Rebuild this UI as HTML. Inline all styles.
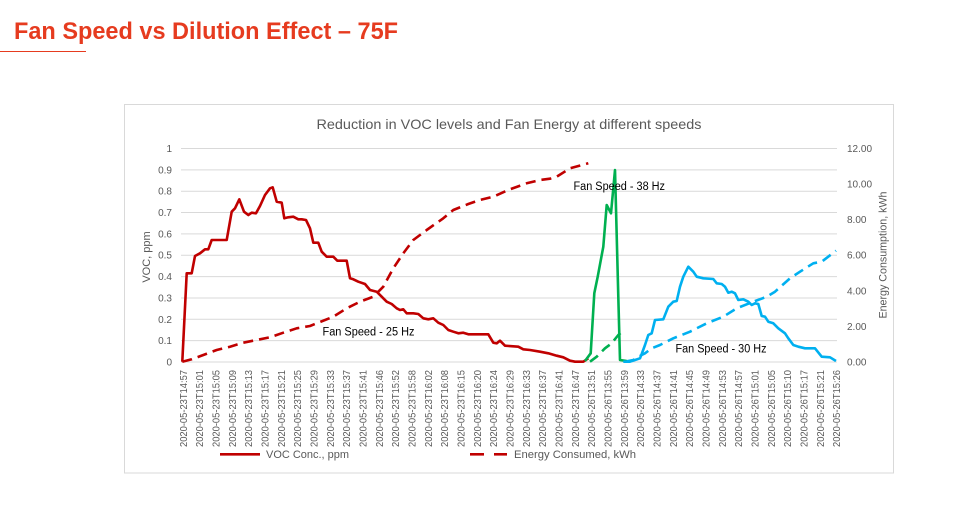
<!DOCTYPE html>
<html>
<head>
<meta charset="utf-8">
<style>
html,body{margin:0;padding:0;background:#fff;}
svg{display:block;}
text{font-family:"Liberation Sans",sans-serif;}
</style>
</head>
<body>
<svg width="953" height="517" viewBox="0 0 953 517" xmlns="http://www.w3.org/2000/svg">
<rect width="953" height="517" fill="#fff"/>
<!-- page title -->
<text x="14" y="39" font-size="24" font-weight="bold" fill="#E63B1F" textLength="384" lengthAdjust="spacingAndGlyphs">Fan Speed vs Dilution Effect – 75F</text>
<line x1="0" y1="51.5" x2="86" y2="51.5" stroke="#E63B1F" stroke-width="1"/>

<!-- chart box -->
<rect x="124.5" y="104.5" width="769" height="368.5" fill="#fff" stroke="#D9D9D9" stroke-width="1"/>
<text x="509" y="129" font-size="14" fill="#595959" text-anchor="middle" textLength="385" lengthAdjust="spacingAndGlyphs">Reduction in VOC levels and Fan Energy at different speeds</text>

<!-- gridlines -->
<g stroke="#D9D9D9" stroke-width="1">
<line x1="181" y1="148.5" x2="837" y2="148.5"/>
<line x1="181" y1="169.85" x2="837" y2="169.85"/>
<line x1="181" y1="191.2" x2="837" y2="191.2"/>
<line x1="181" y1="212.55" x2="837" y2="212.55"/>
<line x1="181" y1="233.9" x2="837" y2="233.9"/>
<line x1="181" y1="255.25" x2="837" y2="255.25"/>
<line x1="181" y1="276.6" x2="837" y2="276.6"/>
<line x1="181" y1="297.95" x2="837" y2="297.95"/>
<line x1="181" y1="319.3" x2="837" y2="319.3"/>
<line x1="181" y1="340.65" x2="837" y2="340.65"/>
<line x1="181" y1="362" x2="837" y2="362"/>
</g>

<!-- left axis labels -->
<g font-size="10" fill="#595959" text-anchor="end">
<text x="172" y="152">1</text>
<text x="172" y="173.3">0.9</text>
<text x="172" y="194.7">0.8</text>
<text x="172" y="216">0.7</text>
<text x="172" y="237.4">0.6</text>
<text x="172" y="258.7">0.5</text>
<text x="172" y="280.1">0.4</text>
<text x="172" y="301.4">0.3</text>
<text x="172" y="322.8">0.2</text>
<text x="172" y="344.1">0.1</text>
<text x="172" y="365.5">0</text>
</g>
<text transform="translate(150,257) rotate(-90)" font-size="11" fill="#595959" text-anchor="middle">VOC, ppm</text>

<!-- right axis labels -->
<g font-size="10" fill="#595959">
<text x="847" y="152">12.00</text>
<text x="847" y="187.5">10.00</text>
<text x="847" y="223.1">8.00</text>
<text x="847" y="258.7">6.00</text>
<text x="847" y="294.3">4.00</text>
<text x="847" y="329.9">2.00</text>
<text x="847" y="365.5">0.00</text>
</g>
<text transform="translate(886.5,255) rotate(-90)" font-size="11" fill="#595959" text-anchor="middle" textLength="127" lengthAdjust="spacingAndGlyphs">Energy Consumption, kWh</text>

<!-- x labels -->
<g font-size="10" fill="#595959" text-anchor="end">
<text transform="translate(186.8,370) rotate(-90)" textLength="77" lengthAdjust="spacingAndGlyphs">2020-05-23T14:57</text>
<text transform="translate(203.1,370) rotate(-90)" textLength="77" lengthAdjust="spacingAndGlyphs">2020-05-23T15:01</text>
<text transform="translate(219.5,370) rotate(-90)" textLength="77" lengthAdjust="spacingAndGlyphs">2020-05-23T15:05</text>
<text transform="translate(235.8,370) rotate(-90)" textLength="77" lengthAdjust="spacingAndGlyphs">2020-05-23T15:09</text>
<text transform="translate(252.1,370) rotate(-90)" textLength="77" lengthAdjust="spacingAndGlyphs">2020-05-23T15:13</text>
<text transform="translate(268.5,370) rotate(-90)" textLength="77" lengthAdjust="spacingAndGlyphs">2020-05-23T15:17</text>
<text transform="translate(284.8,370) rotate(-90)" textLength="77" lengthAdjust="spacingAndGlyphs">2020-05-23T15:21</text>
<text transform="translate(301.1,370) rotate(-90)" textLength="77" lengthAdjust="spacingAndGlyphs">2020-05-23T15:25</text>
<text transform="translate(317.5,370) rotate(-90)" textLength="77" lengthAdjust="spacingAndGlyphs">2020-05-23T15:29</text>
<text transform="translate(333.8,370) rotate(-90)" textLength="77" lengthAdjust="spacingAndGlyphs">2020-05-23T15:33</text>
<text transform="translate(350.1,370) rotate(-90)" textLength="77" lengthAdjust="spacingAndGlyphs">2020-05-23T15:37</text>
<text transform="translate(366.5,370) rotate(-90)" textLength="77" lengthAdjust="spacingAndGlyphs">2020-05-23T15:41</text>
<text transform="translate(382.8,370) rotate(-90)" textLength="77" lengthAdjust="spacingAndGlyphs">2020-05-23T15:46</text>
<text transform="translate(399.1,370) rotate(-90)" textLength="77" lengthAdjust="spacingAndGlyphs">2020-05-23T15:52</text>
<text transform="translate(415.5,370) rotate(-90)" textLength="77" lengthAdjust="spacingAndGlyphs">2020-05-23T15:58</text>
<text transform="translate(431.8,370) rotate(-90)" textLength="77" lengthAdjust="spacingAndGlyphs">2020-05-23T16:02</text>
<text transform="translate(448.1,370) rotate(-90)" textLength="77" lengthAdjust="spacingAndGlyphs">2020-05-23T16:08</text>
<text transform="translate(464.5,370) rotate(-90)" textLength="77" lengthAdjust="spacingAndGlyphs">2020-05-23T16:15</text>
<text transform="translate(480.8,370) rotate(-90)" textLength="77" lengthAdjust="spacingAndGlyphs">2020-05-23T16:20</text>
<text transform="translate(497.1,370) rotate(-90)" textLength="77" lengthAdjust="spacingAndGlyphs">2020-05-23T16:24</text>
<text transform="translate(513.5,370) rotate(-90)" textLength="77" lengthAdjust="spacingAndGlyphs">2020-05-23T16:29</text>
<text transform="translate(529.8,370) rotate(-90)" textLength="77" lengthAdjust="spacingAndGlyphs">2020-05-23T16:33</text>
<text transform="translate(546.1,370) rotate(-90)" textLength="77" lengthAdjust="spacingAndGlyphs">2020-05-23T16:37</text>
<text transform="translate(562.5,370) rotate(-90)" textLength="77" lengthAdjust="spacingAndGlyphs">2020-05-23T16:41</text>
<text transform="translate(578.8,370) rotate(-90)" textLength="77" lengthAdjust="spacingAndGlyphs">2020-05-23T16:47</text>
<text transform="translate(595.1,370) rotate(-90)" textLength="77" lengthAdjust="spacingAndGlyphs">2020-05-26T13:51</text>
<text transform="translate(611.5,370) rotate(-90)" textLength="77" lengthAdjust="spacingAndGlyphs">2020-05-26T13:55</text>
<text transform="translate(627.8,370) rotate(-90)" textLength="77" lengthAdjust="spacingAndGlyphs">2020-05-26T13:59</text>
<text transform="translate(644.1,370) rotate(-90)" textLength="77" lengthAdjust="spacingAndGlyphs">2020-05-26T14:33</text>
<text transform="translate(660.5,370) rotate(-90)" textLength="77" lengthAdjust="spacingAndGlyphs">2020-05-26T14:37</text>
<text transform="translate(676.8,370) rotate(-90)" textLength="77" lengthAdjust="spacingAndGlyphs">2020-05-26T14:41</text>
<text transform="translate(693.1,370) rotate(-90)" textLength="77" lengthAdjust="spacingAndGlyphs">2020-05-26T14:45</text>
<text transform="translate(709.5,370) rotate(-90)" textLength="77" lengthAdjust="spacingAndGlyphs">2020-05-26T14:49</text>
<text transform="translate(725.8,370) rotate(-90)" textLength="77" lengthAdjust="spacingAndGlyphs">2020-05-26T14:53</text>
<text transform="translate(742.1,370) rotate(-90)" textLength="77" lengthAdjust="spacingAndGlyphs">2020-05-26T14:57</text>
<text transform="translate(758.5,370) rotate(-90)" textLength="77" lengthAdjust="spacingAndGlyphs">2020-05-26T15:01</text>
<text transform="translate(774.8,370) rotate(-90)" textLength="77" lengthAdjust="spacingAndGlyphs">2020-05-26T15:05</text>
<text transform="translate(791.1,370) rotate(-90)" textLength="77" lengthAdjust="spacingAndGlyphs">2020-05-26T15:10</text>
<text transform="translate(807.5,370) rotate(-90)" textLength="77" lengthAdjust="spacingAndGlyphs">2020-05-26T15:17</text>
<text transform="translate(823.8,370) rotate(-90)" textLength="77" lengthAdjust="spacingAndGlyphs">2020-05-26T15:21</text>
<text transform="translate(840.2,370) rotate(-90)" textLength="77" lengthAdjust="spacingAndGlyphs">2020-05-26T15:26</text>
</g>

<!-- series -->
<g fill="none" stroke-width="2.6" stroke-linejoin="round" stroke-linecap="butt">
<!-- red dashed energy -->
<polyline stroke="#C00000" stroke-dasharray="10 6" points="182.3,361.7 191.7,359.3 203.3,355 216.7,350 230,346.7 243.3,342.7 260,339.3 270,337.3 283.3,332.7 296.7,328.3 310,326 333.3,316.7 346.7,308.3 360,301.7 373.3,296.7 383.3,286.7 393.3,268.3 403.3,253.3 413.3,240 426.7,230 443.3,218.3 453.3,210 468.3,204 480,200 493.3,196.7 510,189.3 526.7,183.3 540,180 550,178.7 556.7,176.7 570,168.3 588.3,163.3"/>
<!-- green dashed energy -->
<polyline stroke="#00B050" stroke-dasharray="10 6" points="590,361.7 596.7,356.7 605,348.3 611.7,343.3 618.3,335 625,329.3"/>
<!-- blue dashed energy -->
<polyline stroke="#00B0F0" stroke-dasharray="10 6" points="625,361.7 633.3,360 641.7,355 645,353.3 651.7,348.3 660,345 673.3,338.3 690,331.7 706.7,323.3 723.3,316.7 736.7,308.3 753.3,301.7 766.7,296.7 775,291.7 790,278.3 800,271.7 813.3,263.3 821.7,261.7 836,250.7"/>
<!-- red VOC -->
<polyline stroke="#C00000" points="182.3,361.7 186.7,273.3 191.7,273.3 195,256 200,253.3 205,249.3 208.3,249.3 211.7,240 226.7,240 231.7,211.7 235,208.3 239.3,199.3 244,211.7 248.3,215 251.7,212.7 256,213.3 260,206 265,195 270,188.3 272.7,187.3 276.7,201.7 281.7,202.7 284.3,218.3 288.3,217.3 293.3,216.7 298.3,219.3 301.7,219.3 306,220 310,228.3 313.3,242.7 318.3,242.7 321.7,251.7 326.7,256.7 333.3,256.7 337.3,260.7 346.7,260.7 350,278.3 353.3,279.3 358.3,281.7 365,284 370,290 376.7,291.7 381.7,296.7 386.7,301.7 391.7,304 396.7,308.3 400,310 403.3,309.3 406.7,313.3 413.3,313.3 418.3,314 423.3,318.3 428.3,319.3 433.3,318.3 438.3,322.7 443.3,325 448.3,330 453.3,331.7 458.3,333.3 463.3,332.7 468.3,334.3 470,334.3 488.3,334.3 493.3,342.7 496.7,343.3 500,340.7 505,345.7 518.3,346.7 523.3,349.3 530,350 540,351.7 548.3,353.3 556.7,355.7 563.3,357.3 570,360.7 575,361.7 583.3,361.7 588.3,358.3"/>
<!-- green VOC -->
<polyline stroke="#00B050" points="585,361 590.7,353.3 594.3,293.3 597.7,276.7 603.3,246.7 606.7,205 611,213.3 615,170 618.3,296.7 620,360 626.7,361"/>
<!-- blue VOC -->
<polyline stroke="#00B0F0" points="623.3,361.7 630,361.7 635,360 640,358.3 641.7,354 645,345 648.3,335 651.7,333.3 655,320 663.3,319.3 668.3,306.7 673.3,301.7 676.7,301 680,286.7 683.3,276.7 688.3,266.7 693.3,271.7 696.7,276.7 703.3,278.3 713.3,279 716.7,283.3 721.7,284 725,286.7 728.3,292.7 731.7,291.7 735,293.3 738.3,300 743.3,299.3 748.3,301.7 751.7,305 755,303.3 758.3,304 761.7,316 765,316.7 768.3,321.7 773.3,323.3 778.3,328.3 785,333.3 788.3,338.3 793.3,345 798.3,346.7 805,348.3 815,348.3 821.7,356.7 830,357.3 836,361"/>
</g>

<!-- annotations -->
<g font-size="11.5" fill="#000">
<text x="322.5" y="335.5" textLength="92" lengthAdjust="spacingAndGlyphs">Fan Speed - 25 Hz</text>
<text x="573.5" y="190" textLength="91.5" lengthAdjust="spacingAndGlyphs">Fan Speed - 38 Hz</text>
<text x="675.5" y="352.5" textLength="91" lengthAdjust="spacingAndGlyphs">Fan Speed - 30 Hz</text>
</g>

<!-- legend -->
<line x1="220" y1="454.3" x2="260" y2="454.3" stroke="#C00000" stroke-width="2.6"/>
<text x="266" y="458" font-size="11" fill="#595959" textLength="83" lengthAdjust="spacingAndGlyphs">VOC Conc., ppm</text>
<line x1="470" y1="454.3" x2="484" y2="454.3" stroke="#C00000" stroke-width="2.6"/>
<line x1="494" y1="454.3" x2="507" y2="454.3" stroke="#C00000" stroke-width="2.6"/>
<text x="514" y="458" font-size="11" fill="#595959" textLength="122" lengthAdjust="spacingAndGlyphs">Energy Consumed, kWh</text>
</svg>
</body>
</html>
